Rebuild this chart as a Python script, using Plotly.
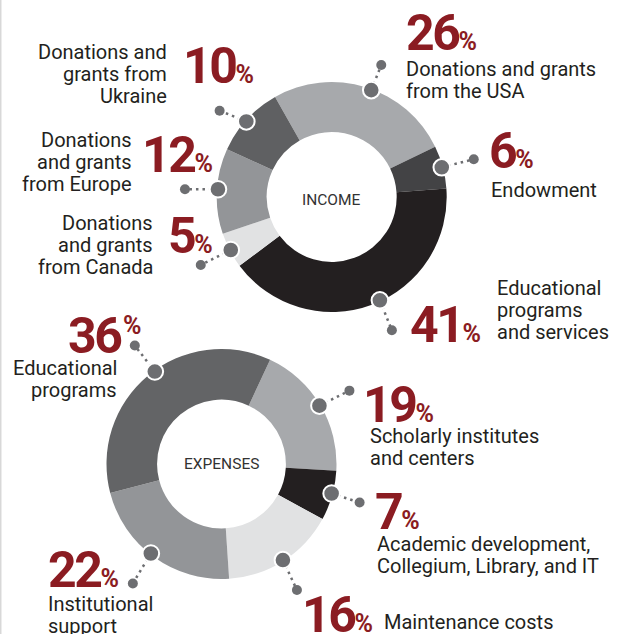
import math
import plotly.graph_objects as go

# ---------------- data ----------------
income_labels = [
    "Donations and grants from the USA",
    "Endowment",
    "Educational programs and services",
    "Donations and grants from Canada",
    "Donations and grants from Europe",
    "Donations and grants from Ukraine",
]
income_values = [26, 6, 41, 5, 12, 10]
income_label_lines = [
    ["Donations and grants", "from the USA"],
    ["Endowment"],
    ["Educational", "programs", "and services"],
    ["Donations", "and grants", "from Canada"],
    ["Donations", "and grants", "from Europe"],
    ["Donations and", "grants from", "Ukraine"],
]

expense_labels = [
    "Scholarly institutes and centers",
    "Academic development, Collegium, Library, and IT",
    "Maintenance costs",
    "Institutional support",
    "Educational programs",
]
expense_values = [19, 7, 16, 22, 36]
expense_label_lines = [
    ["Scholarly institutes", "and centers"],
    ["Academic development,", "Collegium, Library, and IT"],
    ["Maintenance costs"],
    ["Institutional", "support"],
    ["Educational", "programs"],
]

chart_titles = ["INCOME", "EXPENSES"]

# ---------------- style / layout ----------------
W, H = 618, 634
RED = "#8b1c22"
TEXT = "#231f20"
DOT = "#6d6e71"

income_colors = ["#a7a9ac", "#434345", "#231f20", "#e1e2e3", "#939598", "#5f6062"]
expense_colors = ["#a7a9ac", "#231f20", "#e1e2e3", "#939598", "#636466"]

income_geom = dict(cx=331.7, cy=197.0, r=115.0, hole=0.565, rotation=-29.5, title_y=200)
expense_geom = dict(cx=221.5, cy=464.0, r=115.0, hole=0.56, rotation=25.0, title_y=463.5)

LABEL_FS = 20
LINE_STEP = 22
NUM_FS = 50
NUM_TRACK = -2.5     # letter-spacing (px) to mimic the condensed digits
PCT_FS = 25
DOT_R_POS = 114      # radius at which the callout dots sit
BIG_DOT = 8.3
SMALL_DOT = 5.0

LABEL_FAMILY = "Roboto, 'DejaVu Sans', sans-serif"
NUM_FAMILY = "'Liberation Sans Narrow', 'Arial Narrow', Roboto, sans-serif"

# per-slice callout placement (pixels): angle tweak, tip offset, number pos, label pos
income_callouts = [
    dict(da=3, tip=(10, -25), num=(406, 50), lab=(406, 76, "left")),
    dict(da=0, tip=(32, -8), num=(488.8, 168.3), lab=(490.7, 196.7, "left")),
    dict(da=-4.5, tip=(12, 30), num=(410, 341.7), lab=(496.7, 295, "left")),
    dict(da=0, tip=(-30, 15), num=(167.5, 253.3), lab=(153, 230, "right")),
    dict(da=1, tip=(-33, 0), num=(141.9, 171.7), lab=(132, 146.7, "right")),
    dict(da=-1, tip=(-26.7, -10.7), num=(183.3, 83.3), lab=(166.7, 59.3, "right")),
]
expense_callouts = [
    dict(da=0, tip=(30, -15), num=(363.3, 421.7), lab=(370, 442.7, "left")),
    dict(da=-1, tip=(28, 9), num=(374.5, 529.3), lab=(377, 550.5, "left")),
    dict(da=0, tip=(14, 30), num=(301.5, 631.7), lab=(384.3, 629.3, "left")),
    dict(da=2.5, tip=(-18, 30), num=(48, 586.7), lab=(48, 610.7, "left")),
    dict(da=4, tip=(-20, -26), num=(67.8, 353.3), lab=(116.7, 375, "right"),
         pct_sup=(122.5, 334)),
]


def px(x):
    return x / W


def py(y):
    return 1 - y / H


fig = go.Figure()
shapes = []
annotations = []


def add_text(x, baseline, text, fs, family, color, anchor="left", weight="normal"):
    annotations.append(dict(
        x=px(x), y=py(baseline - 0.342 * fs), xref="paper", yref="paper",
        text=text, showarrow=False, xanchor=anchor, yanchor="middle", align=anchor,
        borderpad=0, borderwidth=0,
        font=dict(family=family, size=fs, color=color, weight=weight),
    ))


def num_text(v):
    return f"<span style='letter-spacing:{NUM_TRACK}px'>{v}</span>"


def add_donut(values, labels, colors, geom, callouts, label_lines, title):
    cx, cy, r = geom["cx"], geom["cy"], geom["r"]
    fig.add_trace(go.Pie(
        values=values, labels=labels, sort=False, direction="clockwise",
        rotation=geom["rotation"], hole=geom["hole"],
        marker=dict(colors=colors, line=dict(width=0)),
        textinfo="none", hoverinfo="label+percent", showlegend=False,
        domain=dict(x=[px(cx - r), px(cx + r)], y=[py(cy + r), py(cy - r)]),
    ))
    add_text(cx, geom["title_y"] + 0.355 * 15.5, title, 15.5, LABEL_FAMILY, "#333333", "center")

    total = sum(values)
    cum = 0
    lines_, dots_ = [], []
    for v, co, lines in zip(values, callouts, label_lines):
        mid = geom["rotation"] + (cum + v / 2) / total * 360 + co["da"]
        cum += v
        a = math.radians(mid)
        bx = cx + DOT_R_POS * math.sin(a)
        by = cy - DOT_R_POS * math.cos(a)
        sx, sy = bx + co["tip"][0], by + co["tip"][1]
        lines_.append(dict(type="line", xref="paper", yref="paper",
                           x0=px(bx), y0=py(by), x1=px(sx), y1=py(sy),
                           line=dict(color=DOT, width=2.5, dash="2.5px,4px"), layer="above"))
        dots_.append(dict(type="circle", xref="paper", yref="paper",
                          x0=px(sx - SMALL_DOT), x1=px(sx + SMALL_DOT),
                          y0=py(sy + SMALL_DOT), y1=py(sy - SMALL_DOT),
                          fillcolor=DOT, line=dict(width=0), layer="above"))
        dots_.append(dict(type="circle", xref="paper", yref="paper",
                          x0=px(bx - BIG_DOT), x1=px(bx + BIG_DOT),
                          y0=py(by + BIG_DOT), y1=py(by - BIG_DOT),
                          fillcolor=DOT, line=dict(color="white", width=2), layer="above"))

        nx, nb = co["num"]
        if "pct_sup" in co:
            add_text(nx, nb, num_text(v), NUM_FS, NUM_FAMILY, RED, "left", "bold")
            add_text(co["pct_sup"][0], co["pct_sup"][1], "%", PCT_FS, NUM_FAMILY, RED, "left", "bold")
        else:
            add_text(nx, nb, num_text(v) + f"<span style='font-size:{PCT_FS}px'>%</span>",
                     NUM_FS, NUM_FAMILY, RED, "left", "bold")
        lx, lb, al = co["lab"]
        for k, line in enumerate(lines):
            add_text(lx, lb + k * LINE_STEP, line, LABEL_FS, LABEL_FAMILY, TEXT, al)
    shapes.extend(lines_)
    shapes.extend(dots_)


add_donut(income_values, income_labels, income_colors, income_geom,
          income_callouts, income_label_lines, chart_titles[0])
add_donut(expense_values, expense_labels, expense_colors, expense_geom,
          expense_callouts, expense_label_lines, chart_titles[1])

# thin page border on the left edge
shapes.insert(0, dict(type="line", xref="paper", yref="paper", x0=px(0.8), x1=px(0.8),
                      y0=0, y1=1, line=dict(color="#cfcfcf", width=1.2), layer="above"))

fig.update_layout(
    width=W, height=H, margin=dict(l=0, r=0, t=0, b=0),
    paper_bgcolor="white", plot_bgcolor="white",
    shapes=shapes, annotations=annotations, showlegend=False,
)

fig.write_html(
    "out.html",
    config={"displayModeBar": False},
    post_script="document.body.style.margin='0';document.body.style.overflow='hidden';",
)
